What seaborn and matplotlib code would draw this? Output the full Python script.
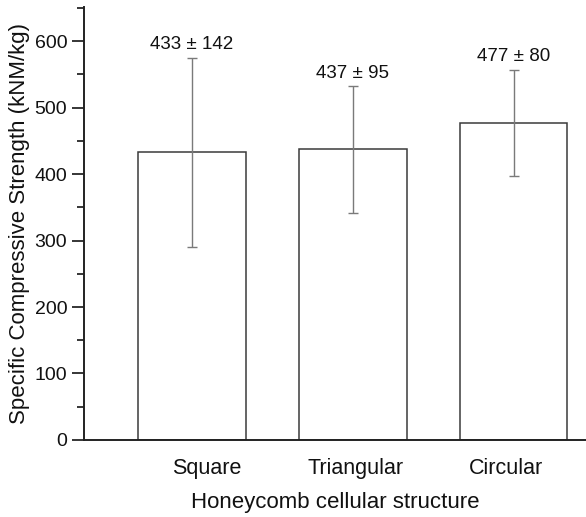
import numpy as np
import matplotlib.pyplot as plt
import matplotlib.transforms as mtransforms
import seaborn as sns
from matplotlib.ticker import MultipleLocator

categories = ["Square", "Triangular", "Circular"]
means = [433, 437, 477]
sds = [142, 95, 80]

sns.set_style("ticks")
plt.rcParams['font.family'] = ['Liberation Sans', 'DejaVu Sans']

fig = plt.figure(figsize=(5.86, 5.17), dpi=100)
ax = fig.add_axes([0.1433, 0.149, 0.8567, 0.837])

sns.barplot(x=categories, y=means, color="white", edgecolor="#3a3a3a",
            linewidth=1.1, width=0.67, ax=ax)
ax.errorbar(x=np.arange(len(categories)), y=means, yerr=sds, fmt="none",
            ecolor="#7a7a7a", elinewidth=1.0, capsize=3.5, capthick=1.0)

# value labels above the error bars
for i, (m, s) in enumerate(zip(means, sds)):
    ax.text(i, m + s + 7, f"{m} \u00b1 {s}", ha="center", va="bottom",
            fontsize=13.5, color="#111111")

ax.set_ylim(0, 651)
ax.set_xlim(-0.67, 2.45)
ax.yaxis.set_major_locator(MultipleLocator(100))
ax.yaxis.set_minor_locator(MultipleLocator(50))
ax.tick_params(axis="y", which="major", length=9, width=1.3, labelsize=14, pad=3,
               labelcolor="#111111")
ax.tick_params(axis="y", which="minor", length=5, width=1.3)
ax.tick_params(axis="x", length=0, labelsize=15.5, pad=13, labelcolor="#111111")

# the category labels in the original sit slightly off the bar centres
for lab, dx in zip(ax.get_xticklabels(), [15, 3, -8]):
    lab.set_transform(lab.get_transform() +
                      mtransforms.ScaledTranslation(dx / 100, 0, fig.dpi_scale_trans))

ax.set_xlabel("Honeycomb cellular structure", fontsize=16, labelpad=9, color="#111111")
ax.set_ylabel("Specific Compressive Strength (kNM/kg)", fontsize=16, labelpad=3,
              color="#111111")

sns.despine(ax=ax)
for side in ["left", "bottom"]:
    ax.spines[side].set_linewidth(1.4)
    ax.spines[side].set_color("#222222")

fig.savefig("out.png", dpi=100, facecolor="white")
